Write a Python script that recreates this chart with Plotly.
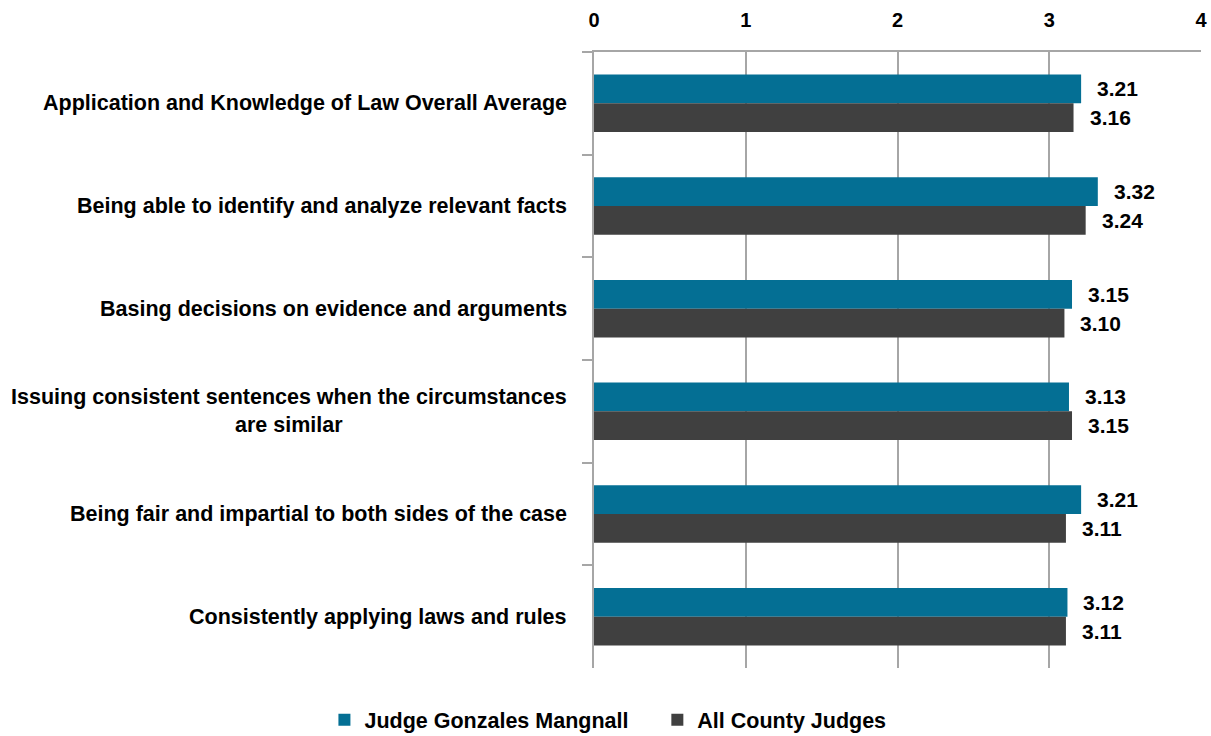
import plotly.graph_objects as go

categories = [
    "Application and Knowledge of Law Overall Average",
    "Being able to identify and analyze relevant facts",
    "Basing decisions on evidence and arguments",
    "Issuing consistent sentences when the circumstances<br>are similar",
    "Being fair and impartial to both sides of the case",
    "Consistently applying laws and rules",
]
judge_vals = [3.21, 3.32, 3.15, 3.13, 3.21, 3.12]
county_vals = [3.16, 3.24, 3.10, 3.15, 3.11, 3.11]
series_names = ["Judge Gonzales Mangnall", "All County Judges"]
x_ticks = [0, 1, 2, 3, 4]

FONT = "Liberation Sans, Arial, sans-serif"
TEAL = "#046F94"
DARK = "#404040"
GRID = "#A6A6A6"
BARGAP = 0.44

fig = go.Figure()
fig.add_trace(go.Bar(y=categories, x=judge_vals, orientation="h",
                     name=f"<b>{series_names[0]}</b>" + "&nbsp;" * 4,
                     marker=dict(color=TEAL, line=dict(width=0))))
fig.add_trace(go.Bar(y=categories, x=county_vals, orientation="h",
                     name=f"<b>{series_names[1]}</b>",
                     marker=dict(color=DARK, line=dict(width=0))))

half = (1 - BARGAP) / 4
annotations = []
for vals, off in ((judge_vals, -half), (county_vals, half)):
    for i, v in enumerate(vals):
        annotations.append(dict(x=v, y=i + off, xref="x", yref="y", text=f"<b>{v:.2f}</b>",
                                showarrow=False, xanchor="left", yanchor="middle", xshift=14,
                                font=dict(family=FONT, size=21, color="#000")))
for i, c in enumerate(categories):
    annotations.append(dict(x=0, y=i, xref="paper", yref="y", text=f"<b>{c}</b>",
                            showarrow=False, xanchor="right", yanchor="middle", xshift=-25,
                            align="center", font=dict(family=FONT, size=21.5, color="#000")))

fig.update_layout(
    width=1211, height=736,
    margin=dict(l=594, r=10, t=52, b=68, autoexpand=False),
    paper_bgcolor="white", plot_bgcolor="white",
    barmode="group", bargap=BARGAP, bargroupgap=0,
    font=dict(family=FONT, size=20, color="#000"),
    showlegend=True,
    legend=dict(orientation="h", x=0.502, xref="container", xanchor="center",
                y=0.022, yref="container", yanchor="middle",
                font=dict(family=FONT, size=21.5, color="#000"), traceorder="normal",
                itemwidth=30),
    xaxis=dict(range=[0, 4], side="top", tickvals=x_ticks,
               ticktext=[f"<b>{t}</b>" for t in x_ticks],
               showgrid=True, gridcolor=GRID, gridwidth=1.5,
               showline=True, linecolor=GRID, linewidth=1.5, ticks="", zeroline=False,
               ticklabelstandoff=15,
               tickfont=dict(family=FONT, size=20, color="#000")),
    yaxis=dict(autorange="reversed", showticklabels=False, ticks="outside", tickson="boundaries",
               ticklen=10, tickcolor=GRID, tickwidth=1.5,
               showline=True, linecolor=GRID, linewidth=1.5, showgrid=False),
    annotations=annotations,
)
fig.write_html("out.html", config={"displayModeBar": False},
               post_script="document.body.style.margin='0';document.body.style.overflow='hidden';")
